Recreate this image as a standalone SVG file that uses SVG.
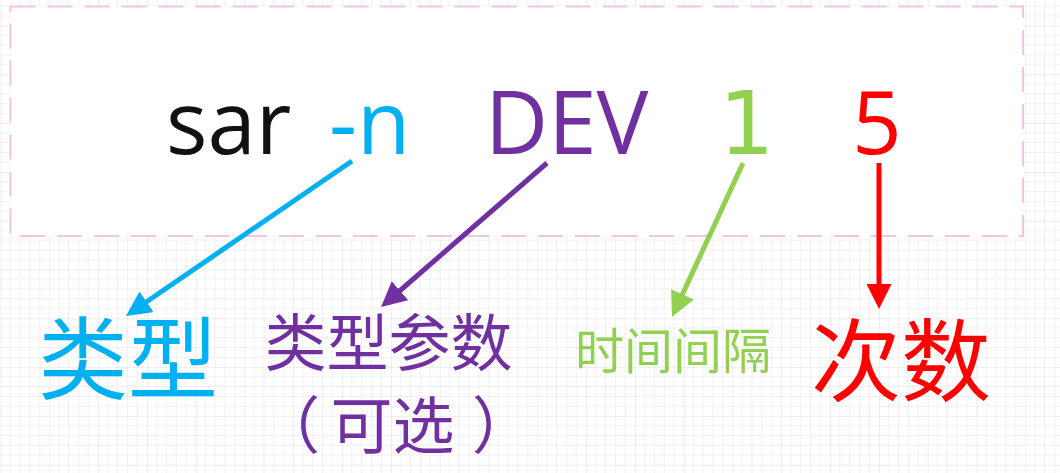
<svg xmlns="http://www.w3.org/2000/svg" width="1060" height="473" viewBox="0 0 1060 473">
  <style>
    .lat { font-family: "Open Sans", "Noto Sans", sans-serif; font-size: 87px; }
    .cjk { font-family: "Noto Sans CJK SC", sans-serif; }
    .conn { fill: none; stroke-width: 5; stroke-linecap: butt; }
  </style>
  <defs>
    <pattern id="grid" patternUnits="userSpaceOnUse" x="0.5" y="25.5" width="48.8" height="48.8">
      <g stroke="#efefef" stroke-width="1">
        <line x1="9.76" y1="0" x2="9.76" y2="48.8"/>
        <line x1="19.52" y1="0" x2="19.52" y2="48.8"/>
        <line x1="29.28" y1="0" x2="29.28" y2="48.8"/>
        <line x1="39.04" y1="0" x2="39.04" y2="48.8"/>
        <line x1="0" y1="9.76" x2="48.8" y2="9.76"/>
        <line x1="0" y1="19.52" x2="48.8" y2="19.52"/>
        <line x1="0" y1="29.28" x2="48.8" y2="29.28"/>
        <line x1="0" y1="39.04" x2="48.8" y2="39.04"/>
      </g>
      <g stroke="#dcdcdc" stroke-width="1">
        <line x1="0" y1="0" x2="0" y2="48.8"/>
        <line x1="0" y1="0" x2="48.8" y2="0"/>
      </g>
    </pattern>
    <marker id="ah-cyan" viewBox="0 0 10 10" refX="6" refY="5" markerWidth="5" markerHeight="5" orient="auto" markerUnits="strokeWidth">
      <path d="M0,0 L10,5 L0,10 z" fill="#00b0f0"/>
    </marker>
    <marker id="ah-purple" viewBox="0 0 10 10" refX="6" refY="5" markerWidth="5" markerHeight="5" orient="auto" markerUnits="strokeWidth">
      <path d="M0,0 L10,5 L0,10 z" fill="#7030a0"/>
    </marker>
    <marker id="ah-green" viewBox="0 0 10 10" refX="6" refY="5" markerWidth="5" markerHeight="5" orient="auto" markerUnits="strokeWidth">
      <path d="M0,0 L10,5 L0,10 z" fill="#92d050"/>
    </marker>
    <marker id="ah-red" viewBox="0 0 10 10" refX="6" refY="5" markerWidth="5" markerHeight="5" orient="auto" markerUnits="strokeWidth">
      <path d="M0,0 L10,5 L0,10 z" fill="#ff0000"/>
    </marker>
  </defs>

  <rect x="0" y="0" width="1060" height="473" fill="#ffffff"/>
  <rect x="0" y="0" width="1060" height="473" fill="url(#grid)"/>

  <g id="command-box">
    <rect x="10.5" y="6.5" width="1012.5" height="229.5" fill="#ffffff" stroke="#f2c6df" stroke-width="2" stroke-dasharray="25 12"/>
  </g>

  <g id="cmd-sar"><text class="lat" x="166" y="154" fill="#111111">sar</text></g>
  <g id="cmd-n"><text class="lat" x="329" y="154" fill="#00b0f0">-n</text></g>
  <g id="cmd-dev"><text class="lat" x="485" y="154" fill="#7030a0">DEV</text></g>
  <g id="cmd-1"><text x="719" y="154" font-family="DejaVu Sans, sans-serif" font-size="87" fill="#92d050">1</text></g>
  <g id="cmd-5"><text class="lat" x="852" y="154" fill="#ff0000">5</text></g>

  <g id="connectors">
    <line class="conn" x1="352" y1="161" x2="134.2" y2="310.3" stroke="#00b0f0" marker-end="url(#ah-cyan)"/>
    <line class="conn" x1="547" y1="163" x2="388.6" y2="300.5" stroke="#7030a0" marker-end="url(#ah-purple)"/>
    <line class="conn" x1="743" y1="163" x2="676.2" y2="307.9" stroke="#92d050" marker-end="url(#ah-green)"/>
    <line class="conn" x1="879" y1="163" x2="879" y2="299" stroke="#ff0000" marker-end="url(#ah-red)"/>
  </g>

  <g id="label-type"><text class="cjk" x="38" y="392" font-size="90" fill="#00b0f0">类型</text></g>
  <g id="label-param">
    <text class="cjk" x="264.5" y="366" font-size="62" fill="#7030a0">类型参数</text>
    <text class="cjk" x="258" y="449" font-size="62" fill="#7030a0">（</text>
    <text class="cjk" x="330.5" y="449" font-size="62" fill="#7030a0">可选</text>
    <text class="cjk" x="472" y="449" font-size="62" fill="#7030a0">）</text>
  </g>
  <g id="label-interval"><text class="cjk" x="575" y="369" font-size="49" fill="#92d050">时间间隔</text></g>
  <g id="label-count"><text class="cjk" x="811" y="394" font-size="90" fill="#ff0000">次数</text></g>
</svg>
